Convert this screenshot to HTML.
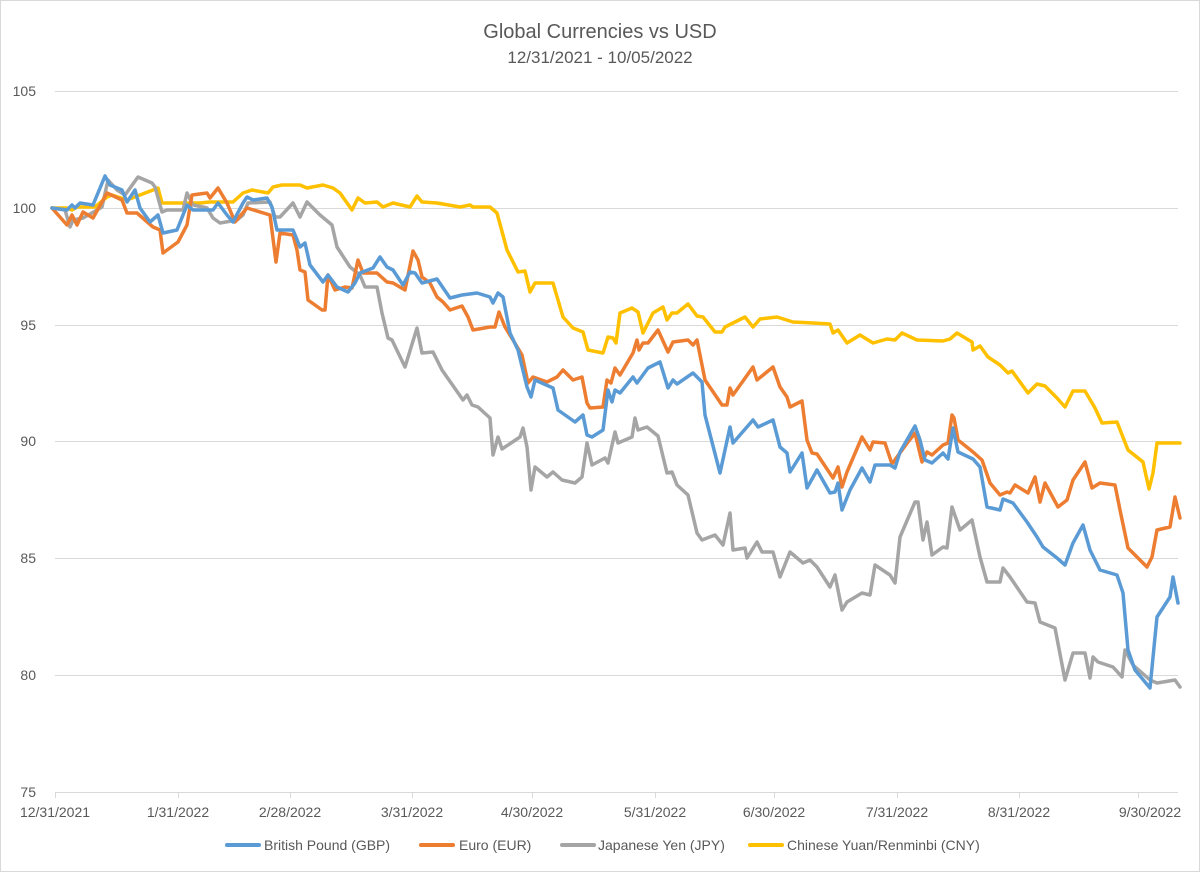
<!DOCTYPE html>
<html><head><meta charset="utf-8"><style>
html,body{margin:0;padding:0;background:#fff;}
svg{display:block;font-family:"Liberation Sans",sans-serif;}
</style></head><body>
<svg width="1200" height="872" viewBox="0 0 1200 872" xmlns="http://www.w3.org/2000/svg">
<rect x="0.5" y="0.5" width="1199" height="871" fill="#fff" stroke="#d9d9d9"/>
<text x="600" y="38" text-anchor="middle" font-size="20" fill="#595959">Global Currencies vs USD</text>
<text x="600" y="63" text-anchor="middle" font-size="17" fill="#595959">12/31/2021 - 10/05/2022</text>
<g stroke="#d9d9d9" stroke-width="1">
<line x1="55" y1="91.5" x2="1178" y2="91.5"/>
<line x1="55" y1="208.5" x2="1178" y2="208.5"/>
<line x1="55" y1="325.5" x2="1178" y2="325.5"/>
<line x1="55" y1="441.5" x2="1178" y2="441.5"/>
<line x1="55" y1="558.5" x2="1178" y2="558.5"/>
<line x1="55" y1="675.5" x2="1178" y2="675.5"/>
<line x1="55" y1="792.5" x2="1178" y2="792.5"/>
</g>
<g stroke="#d9d9d9"><line x1="55.5" y1="792" x2="55.5" y2="798"/><line x1="178.5" y1="792" x2="178.5" y2="798"/><line x1="290.5" y1="792" x2="290.5" y2="798"/><line x1="412.5" y1="792" x2="412.5" y2="798"/><line x1="532.5" y1="792" x2="532.5" y2="798"/><line x1="655.5" y1="792" x2="655.5" y2="798"/><line x1="774.5" y1="792" x2="774.5" y2="798"/><line x1="897.5" y1="792" x2="897.5" y2="798"/><line x1="1019.5" y1="792" x2="1019.5" y2="798"/><line x1="1138.5" y1="792" x2="1138.5" y2="798"/></g>
<g font-size="14" fill="#595959" text-anchor="end">
<text x="36" y="96">105</text><text x="36" y="213">100</text><text x="36" y="330">95</text><text x="36" y="446">90</text><text x="36" y="563">85</text><text x="36" y="680">80</text><text x="36" y="797">75</text>
</g>
<g font-size="14" fill="#595959" text-anchor="middle">
<text x="55" y="817">12/31/2021</text><text x="178" y="817">1/31/2022</text><text x="290" y="817">2/28/2022</text><text x="412" y="817">3/31/2022</text><text x="532" y="817">4/30/2022</text><text x="655" y="817">5/31/2022</text><text x="774" y="817">6/30/2022</text><text x="897" y="817">7/31/2022</text><text x="1019" y="817">8/31/2022</text><text x="1150" y="817">9/30/2022</text>
</g>
<g fill="none" stroke-width="3.5" stroke-linejoin="round" stroke-linecap="round">
<polyline stroke="#ffc000" points="52,208 67,208 72,210 77,207 95,207 107,197 112,195 127,200 140,195 153,190 158,188 162,203 200,203 210,202 233,202 243,193 252,190 268,193 273,187 282,185 300,185 307,188 323,185 333,188 340,193 352,210 358,198 365,203 377,202 383,207 393,203 410,207 417,196 422,202 437,203 460,207 470,205 473,207 490,207 497,213 507,250 518,272 525,271 530,292 535,283 553,283 563,317 573,328 583,332 588,350 603,353 608,337 613,338 616,343 620,313 632,308 638,312 643,333 653,313 663,307 667,320 672,313 677,313 688,304 697,316 703,317 715,332 722,332 725,327 745,317 753,327 760,319 777,317 793,322 813,323 830,324 833,333 838,330 847,343 860,335 873,343 887,339 895,340 902,333 917,340 943,341 950,339 957,333 972,342 973,350 980,346 988,357 1000,365 1008,373 1012,371 1028,393 1037,384 1045,386 1057,398 1065,407 1073,391 1085,391 1095,408 1102,423 1117,422 1128,450 1143,462 1149,489 1153,473 1157,443 1180,443"/>
<polyline stroke="#a5a5a5" points="52,208 65,210 70,227 73,220 83,218 97,210 102,207 108,180 117,190 125,195 138,177 152,183 155,187 162,212 167,210 183,210 187,193 193,205 203,207 207,208 213,218 220,223 237,220 243,215 248,203 270,202 275,217 280,217 293,203 300,217 307,202 320,215 332,225 337,247 350,267 360,275 365,287 377,287 382,313 388,338 392,340 405,367 417,328 422,353 433,352 442,370 463,400 467,395 472,405 478,407 490,418 493,455 498,437 502,449 520,437 523,428 527,447 531,490 535,467 547,477 553,472 562,480 575,483 582,477 587,443 592,465 605,458 608,463 615,432 618,443 632,437 635,418 638,430 647,427 658,436 667,473 672,472 677,485 688,495 697,533 702,540 715,535 723,545 730,513 733,550 745,548 747,558 757,542 762,552 773,552 780,577 790,552 803,563 810,560 817,567 830,587 835,575 842,610 847,602 862,593 870,595 875,565 890,575 895,583 900,537 915,502 918,502 923,540 927,522 932,555 943,547 947,548 952,507 960,530 972,520 980,557 987,582 1000,582 1003,568 1010,577 1027,602 1035,603 1040,622 1055,628 1065,680 1073,653 1085,653 1090,678 1093,657 1098,662 1113,667 1122,677 1125,650 1133,665 1150,680 1157,683 1175,680 1180,687"/>
<polyline stroke="#ed7d31" points="52,208 67,225 72,215 77,225 83,212 93,218 107,193 122,200 127,213 137,213 153,227 160,230 163,253 178,242 187,225 192,195 207,193 210,198 218,188 227,203 235,222 247,208 270,215 276,262 280,233 293,235 297,250 300,270 305,272 308,300 322,310 325,310 328,275 335,290 345,287 352,288 358,260 363,273 377,273 387,282 393,283 405,290 413,251 418,260 422,277 430,283 437,297 443,302 450,310 462,306 468,317 473,330 490,327 495,327 499,312 505,327 513,340 522,355 528,383 533,377 547,382 557,377 563,370 573,380 582,377 587,403 590,408 603,407 607,380 611,383 615,368 620,375 633,353 637,340 639,350 643,343 648,343 658,330 668,352 673,342 688,340 693,345 697,340 705,380 722,405 727,405 730,388 733,395 753,367 757,380 773,367 780,387 787,397 790,407 802,401 807,440 812,453 817,454 833,478 838,467 842,487 847,472 862,437 870,450 873,442 885,443 892,464 897,457 908,442 915,433 922,462 927,452 932,455 943,445 948,443 952,415 954,418 958,440 973,452 982,460 990,483 1000,495 1007,492 1010,493 1015,485 1028,493 1035,477 1040,502 1045,483 1058,507 1067,500 1073,480 1085,462 1092,488 1100,483 1115,485 1120,510 1128,548 1147,567 1152,557 1157,530 1170,527 1175,497 1180,518"/>
<polyline stroke="#5b9bd5" points="52,208 67,210 72,205 75,208 80,203 93,205 105,176 110,185 122,190 127,202 135,190 140,208 150,222 158,215 163,233 177,230 187,205 193,210 213,210 218,203 227,215 233,222 243,203 247,197 253,200 267,198 272,207 277,230 293,230 300,247 305,243 310,265 323,282 328,275 337,287 348,292 355,283 360,273 373,268 380,257 387,267 393,270 403,285 410,272 415,273 422,283 437,279 450,298 462,295 477,293 490,297 493,303 498,293 503,297 510,333 518,350 527,387 531,397 535,380 553,388 558,410 575,422 583,415 587,435 592,437 603,430 608,390 612,402 615,390 620,393 633,377 637,383 648,368 660,362 668,388 673,380 677,384 693,373 702,382 705,415 720,473 730,427 733,443 753,420 758,427 773,420 780,447 787,453 790,472 802,453 807,488 817,470 830,493 835,492 838,483 842,510 850,490 862,468 870,482 875,465 890,465 895,468 900,452 915,426 920,440 925,460 932,463 943,453 948,459 953,428 958,452 973,459 980,467 987,507 1000,510 1003,499 1013,503 1027,522 1037,537 1043,547 1057,558 1065,565 1073,543 1083,525 1090,550 1100,570 1117,575 1123,593 1128,650 1135,670 1150,688 1155,637 1157,617 1170,597 1173,577 1178,603"/>
</g>
<g stroke-width="4" stroke-linecap="round">
<line x1="227" y1="845" x2="259" y2="845" stroke="#5b9bd5"/>
<line x1="421" y1="845" x2="453" y2="845" stroke="#ed7d31"/>
<line x1="562" y1="845" x2="594" y2="845" stroke="#a5a5a5"/>
<line x1="750" y1="845" x2="782" y2="845" stroke="#ffc000"/>
</g>
<g font-size="14" fill="#595959">
<text x="264" y="850">British Pound (GBP)</text>
<text x="459" y="850">Euro (EUR)</text>
<text x="598" y="850">Japanese Yen (JPY)</text>
<text x="787" y="850">Chinese Yuan/Renminbi (CNY)</text>
</g>
</svg>
</body></html>
